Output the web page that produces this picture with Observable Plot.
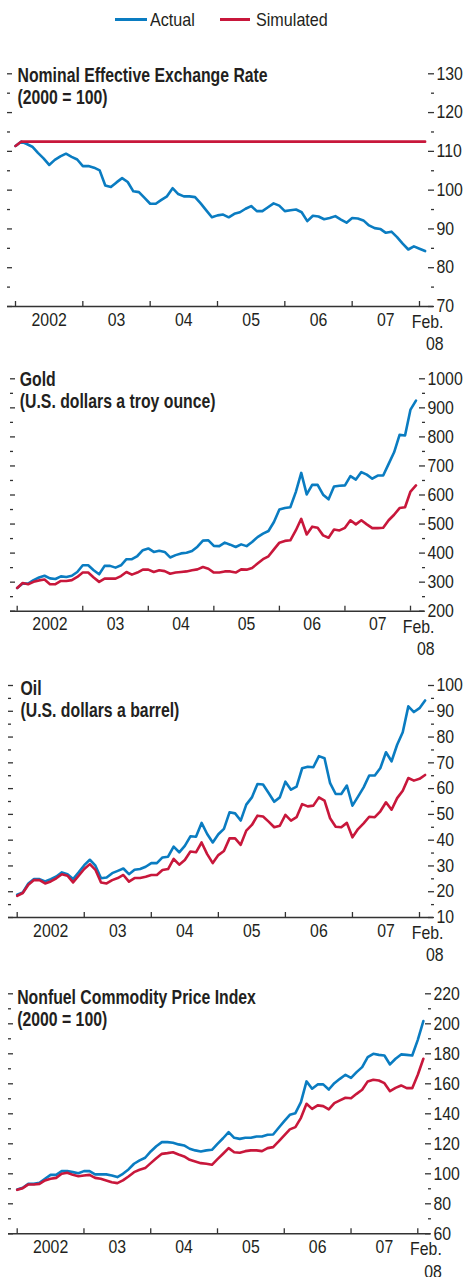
<!DOCTYPE html>
<html><head><meta charset="utf-8">
<script src="https://cdn.jsdelivr.net/npm/d3@7"></script>
<script src="https://cdn.jsdelivr.net/npm/@observablehq/plot@0.6"></script>
<style>
body{margin:0;background:#fff;}
#root{position:relative;width:467px;height:1277px;font-family:"Liberation Sans",Arial,sans-serif;color:#231f20;overflow:hidden;}
.panel{position:absolute;left:0;}
.panel svg{display:block;overflow:visible;}
.leg{position:absolute;font-size:19px;line-height:19px;white-space:nowrap;transform:scaleX(0.85);transform-origin:0 50%;}
.sw{position:absolute;height:3px;}
</style></head><body><div id="root"></div>
<script>
// ---------- data (monthly, Jan 2002 .. Feb 2008) ----------
const seriesNames = ["Actual", "Simulated"];
const yearTicks = [0, 12, 24, 36, 48, 60, 72];
const yearLabels = ["2002", "03", "04", "05", "06", "07"];
const yearLabelPos = [6, 18, 30, 42, 54, 66];
const endLabel = "Feb.\n08";

const neerActual = [111.4,112.5,111.9,111.2,109.6,108.2,106.5,107.8,108.7,109.4,
  108.6,107.9,106.2,106.2,105.8,105.1,101.2,100.8,102.0,103.1,
  102.1,99.7,99.5,98.0,96.5,96.5,97.5,98.4,100.5,99.0,
  98.4,98.4,98.2,96.6,94.8,93.0,93.5,93.7,93.0,93.9,
  94.3,95.2,95.9,94.6,94.6,95.6,96.6,96.0,94.6,94.8,
  95.0,94.3,92.0,93.4,93.2,92.5,92.8,93.3,92.4,91.6,
  92.8,92.7,92.2,90.9,90.2,90.0,89.0,89.3,87.9,86.2,
  84.7,85.5,84.9,84.3];
const neerSimulated = [111.4,112.5,112.5,112.5,112.5,112.5,112.5,112.5,112.5,112.5,
  112.5,112.5,112.5,112.5,112.5,112.5,112.5,112.5,112.5,112.5,
  112.5,112.5,112.5,112.5,112.5,112.5,112.5,112.5,112.5,112.5,
  112.5,112.5,112.5,112.5,112.5,112.5,112.5,112.5,112.5,112.5,
  112.5,112.5,112.5,112.5,112.5,112.5,112.5,112.5,112.5,112.5,
  112.5,112.5,112.5,112.5,112.5,112.5,112.5,112.5,112.5,112.5,
  112.5,112.5,112.5,112.5,112.5,112.5,112.5,112.5,112.5,112.5,
  112.5,112.5,112.5,112.5];

const goldActual = [280,295,295,307,316,322,313,311,320,318,
  322,335,358,358,341,327,356,356,350,358,
  379,379,390,410,416,404,408,404,385,393,
  399,401,407,422,443,444,425,424,436,429,
  421,430,424,438,455,467,476,507,550,555,
  558,610,676,602,635,635,601,585,629,632,
  633,665,653,679,670,656,667,667,707,747,
  807,805,894,925];
const goldSimulated = [280,297,293,301,306,309,293,293,304,304,
  307,318,333,333,316,301,312,312,312,321,
  335,326,333,343,343,335,341,338,329,333,
  335,337,341,344,352,346,333,333,337,337,
  333,344,343,349,364,379,389,413,436,442,
  444,478,518,464,491,487,461,453,481,478,
  487,513,499,513,499,486,486,487,513,532,
  555,558,612,633];

const oilActual = [18.8,19.7,23.2,24.9,24.9,24.0,24.9,25.9,27.5,26.8,
  24.9,27.5,30.3,32.4,30.1,25.2,25.5,27.2,28.1,29.0,
  26.8,28.5,28.8,29.7,31.1,31.1,33.3,33.6,37.5,35.3,
  37.8,41.5,41.3,46.7,42.4,39.1,42.3,44.4,50.8,50.4,
  47.6,53.8,56.6,61.8,61.6,58.3,54.9,56.6,62.7,59.6,
  60.8,67.9,68.5,68.3,72.6,71.8,62.1,57.9,57.9,61.2,
  53.4,56.9,60.5,65.1,65.1,68.0,74.1,70.6,77.0,81.9,
  91.9,89.7,91.2,94.2];
const oilSimulated = [18.4,19.5,22.7,24.5,24.5,23.2,24.0,25.2,26.8,26.2,
  23.6,26.2,28.8,30.7,28.5,23.6,23.2,24.5,25.3,26.5,
  23.9,25.3,25.3,25.8,26.5,26.5,28.4,28.8,32.7,30.5,
  32.3,35.6,35.3,39.1,34.6,31.1,34.2,35.8,40.7,40.7,
  38.2,43.7,45.9,49.5,49.2,47.2,45.0,45.6,49.8,47.6,
  48.9,54.0,53.1,53.4,56.6,55.3,48.5,45.2,45.0,46.7,
  41.1,44.3,46.5,49.1,48.9,51.2,54.7,51.8,56.3,59.2,
  64.1,63.1,63.8,65.3];

const nonfuelActual = [89.6,90.7,93.3,93.3,94.0,96.7,99.3,99.3,101.8,101.8,
  101.1,100.4,101.8,101.8,99.6,99.6,99.6,98.9,97.8,100.0,
  102.9,106.7,108.9,110.7,114.9,118.4,121.1,121.1,120.7,119.6,
  118.9,116.7,115.6,114.9,115.6,116.0,120.0,123.7,127.8,124.0,
  123.3,124.0,124.0,124.9,124.9,126.0,126.2,130.7,135.1,139.3,
  140.4,147.8,161.6,156.7,159.6,159.6,156.2,160.4,163.3,166.0,
  164.0,167.8,171.1,177.8,180.0,179.3,178.9,172.9,176.7,179.6,
  179.3,178.9,189.3,201.8];
const nonfuelSimulated = [89.3,90.4,92.9,92.9,93.3,95.6,96.7,97.3,100.0,100.7,
  99.3,98.4,98.9,99.3,97.3,96.7,95.6,94.4,93.8,95.6,
  98.2,101.1,102.7,103.8,107.1,110.4,113.3,113.8,114.4,112.9,
  111.6,109.3,108.2,107.1,106.7,106.0,109.8,113.4,117.1,114.4,
  114.0,115.1,115.6,115.6,115.1,117.1,117.8,121.6,125.6,129.6,
  131.1,137.3,146.7,143.3,145.6,145.1,142.9,147.1,148.9,150.7,
  150.4,153.3,156.0,161.6,162.7,162.2,160.4,155.1,157.3,158.9,
  157.1,157.1,166.0,176.7];

const titles = [
  "Nominal Effective Exchange Rate\n(2000 = 100)",
  "Gold\n(U.S. dollars a troy ounce)",
  "Oil\n(U.S. dollars a barrel)",
  "Nonfuel Commodity Price Index\n(2000 = 100)"
];
const neerTicks = [70,80,90,100,110,120,130];
const neerMinor = [75,85,95,105,115,125];
const goldTicks = [200,300,400,500,600,700,800,900,1000];
const goldMinor = [250,350,450,550,650,750,850,950];
const oilTicks = [10,20,30,40,50,60,70,80,90,100];
const oilMinor = [15,25,35,45,55,65,75,85,95];
const nonfuelTicks = [60,80,100,120,140,160,180,200,220];
const nonfuelMinor = [70,90,110,130,150,170,190,210];

// ---------- layout & style ----------
const BLUE = "#0a7cc1", RED = "#c8173b", INK = "#231f20", TICK = "#333333";
const FONT = '"Liberation Sans",Arial,sans-serif';
const SX_LABEL = 0.88, SX_TITLE = 0.79;

const layout = [
  {top:55,  height:300, mt:18.3, mb:49,   ml:7,  mr:34, xr:[15,419],    tdx:10,  tdy:-8},
  {top:360, height:300, mt:18.3, mb:49.3, ml:10, mr:43, xr:[16.7,410],  tdx:9.3, tdy:-8.5},
  {top:665, height:300, mt:20,   mb:48,   ml:8,  mr:34, xr:[16.7,419],  tdx:12,  tdy:-6.5},
  {top:970, height:307, mt:23.3, mb:43.7, ml:8,  mr:37, xr:[16.7,417.3],tdx:8.7, tdy:-6}
];
const panelData = [
  {actual:neerActual, sim:neerSimulated, ticks:neerTicks, minor:neerMinor},
  {actual:goldActual, sim:goldSimulated, ticks:goldTicks, minor:goldMinor},
  {actual:oilActual, sim:oilSimulated, ticks:oilTicks, minor:oilMinor},
  {actual:nonfuelActual, sim:nonfuelSimulated, ticks:nonfuelTicks, minor:nonfuelMinor}
];

const root = document.getElementById("root");

// legend
function addLegend() {
  const items = [
    {name: seriesNames[0], color: BLUE, sw: 115, sww: 32, tx: 150},
    {name: seriesNames[1], color: RED, sw: 220, sww: 30, tx: 256}
  ];
  for (const it of items) {
    const s = document.createElement("div");
    s.className = "sw";
    s.style.cssText = `left:${it.sw}px;width:${it.sww}px;top:18px;background:${it.color}`;
    root.appendChild(s);
    const t = document.createElement("div");
    t.className = "leg";
    t.style.left = it.tx + "px";
    t.style.top = "10px";
    t.textContent = it.name;
    root.appendChild(t);
  }
}
addLegend();

function condense(svg) {
  svg.querySelectorAll("text").forEach((t) => {
    const bold = t.closest('[font-weight="bold"]');
    const sx = bold ? SX_TITLE : SX_LABEL;
    const tr = t.getAttribute("transform") || "";
    t.setAttribute("transform", `${tr} scale(${sx},1)`);
  });
}

function makePanel(k) {
  const L = layout[k], D = panelData[k];
  const rowsA = D.actual.map((v, i) => ({i, v}));
  const rowsS = D.sim.map((v, i) => ({i, v}));
  const yDom = [D.ticks[0], D.ticks[D.ticks.length - 1]];
  const plot = Plot.plot({
    width: 467, height: L.height,
    marginTop: L.mt, marginBottom: L.mb, marginLeft: L.ml, marginRight: L.mr,
    x: {domain: [0, 72], range: L.xr},
    y: {domain: yDom},
    style: {fontFamily: FONT, fontSize: "18px", color: INK, background: "transparent", overflow: "visible"},
    marks: [
      Plot.axisY(D.minor, {anchor: "left", tickSize: -3, tickFormat: () => "", stroke: TICK, strokeWidth: 1.3, label: null}),
      Plot.axisY(D.ticks, {anchor: "left", tickSize: -5, tickFormat: () => "", stroke: TICK, strokeWidth: 1.3, label: null}),
      Plot.axisY(D.minor, {anchor: "right", tickSize: -3, tickFormat: () => "", stroke: TICK, strokeWidth: 1.3, label: null}),
      Plot.axisY(D.ticks, {anchor: "right", tickSize: -6, tickPadding: 9, tickFormat: (d) => String(d), stroke: TICK, strokeWidth: 1.3, fill: INK, label: null}),
      Plot.axisX(yearTicks, {tickSize: -5, tickFormat: () => "", stroke: TICK, strokeWidth: 1.3, label: null}),
      Plot.ruleY([yDom[0]], {stroke: TICK, strokeWidth: 1.5}),
      Plot.line(rowsA, {x: "i", y: "v", stroke: BLUE, strokeWidth: 2.6}),
      Plot.line(rowsS, {x: "i", y: "v", stroke: RED, strokeWidth: 2.6}),
      Plot.text(yearLabels, {x: (d, i) => yearLabelPos[i], text: (d) => d, frameAnchor: "bottom", lineAnchor: "top", dy: 6.3, fill: INK}),
      Plot.text([endLabel], {x: () => yearTicks[yearTicks.length - 1], text: (d) => d, frameAnchor: "bottom", textAnchor: "end", lineAnchor: "top", dy: 5.4, dx: 24, lineHeight: 1.25, fill: INK}),
      Plot.text([titles[k]], {text: (d) => d, frameAnchor: "top-left", textAnchor: "start", lineAnchor: "top", dx: L.tdx, dy: L.tdy, fontWeight: "bold", fontSize: 20, lineHeight: 1.11, fill: INK})
    ]
  });
  condense(plot);
  const wrap = document.createElement("div");
  wrap.className = "panel";
  wrap.style.top = L.top + "px";
  wrap.appendChild(plot);
  root.appendChild(wrap);
}
for (let k = 0; k < 4; k++) makePanel(k);
</script>
</body></html>
